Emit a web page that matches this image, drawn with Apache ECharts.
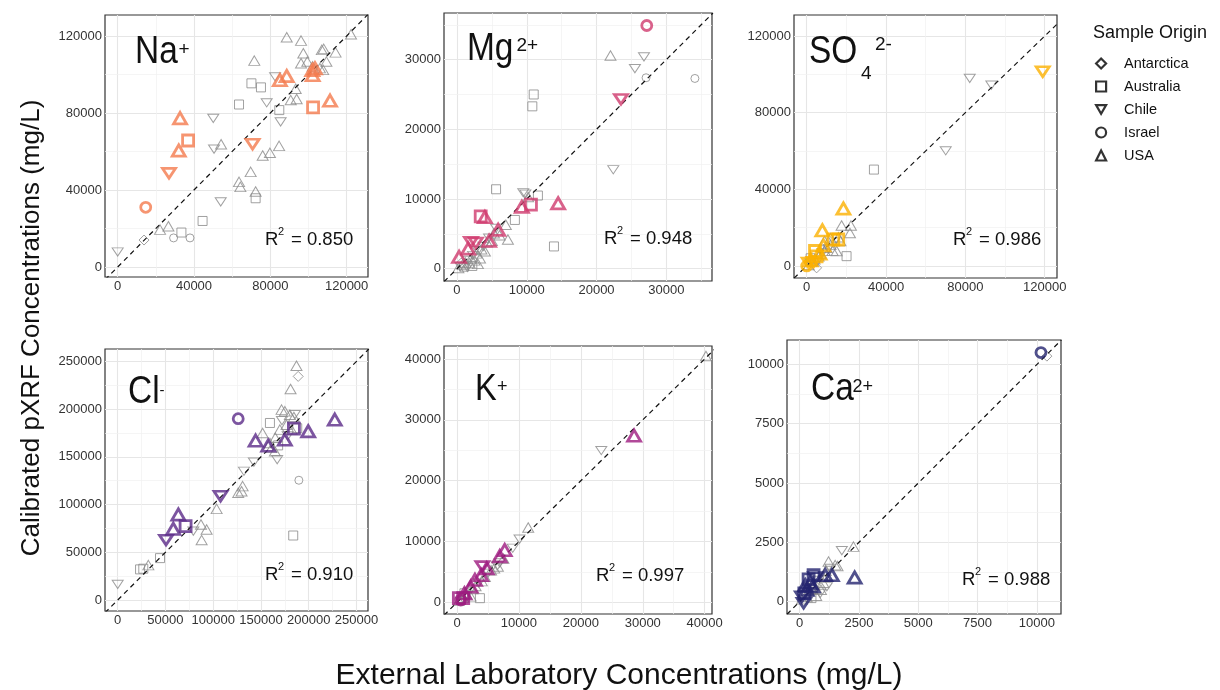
<!DOCTYPE html>
<html>
<head>
<meta charset="utf-8">
<script src="https://cdn.jsdelivr.net/npm/echarts@6/dist/echarts.min.js"></script>
<style>
  html, body { margin: 0; padding: 0; background: #fff; }
  #chart { width: 1220px; height: 690px; }
</style>
</head>
<body>
<div id="chart"></div>
<script>
// ---- data: [external lab, calibrated pXRF, origin] ----
const origins = ['Antarctica', 'Australia', 'Chile', 'Israel', 'USA']

const naGray = [[88600,119300,'USA'],[96100,117600,'USA'],[122300,120900,'USA'],[97300,111000,'USA'],[107000,112800,'USA'],[108000,113300,'USA'],[114200,111500,'USA'],[96100,105800,'USA'],[99400,106700,'USA'],[102200,104200,'USA'],[106000,103300,'USA'],[107700,102400,'USA'],[109400,106700,'USA'],[71600,107200,'USA'],[93300,92600,'USA'],[90700,86700,'USA'],[93800,87300,'USA'],[84600,62900,'USA'],[79800,59300,'USA'],[76000,57900,'USA'],[69700,49400,'USA'],[63600,44200,'USA'],[64300,41600,'USA'],[72300,39200,'USA'],[54200,63800,'USA'],[26600,21200,'USA'],[22200,19400,'USA'],
  [29300,15100,'Israel'],[37900,15100,'Israel'],
  [70100,95400,'Australia'],[75100,93300,'Australia'],[63600,84400,'Australia'],[84700,81500,'Australia'],[44500,23900,'Australia'],[33400,17900,'Australia'],[72300,35700,'Australia'],
  [0,7800,'Chile'],[54000,33800,'Chile'],[50100,77200,'Chile'],[50500,61200,'Chile'],[78100,85300,'Chile'],[85400,75400,'Chile'],[82500,98800,'Chile'],
  [13800,14000,'Antarctica']]
const naHi = [[14700,31000,'Israel'],[26900,48700,'Chile'],[32000,60500,'USA'],[36900,65700,'Australia'],[32700,77300,'USA'],[70700,63800,'Chile'],[85000,97100,'USA'],[88600,99200,'USA'],[102000,102300,'USA'],[103400,103200,'USA'],[102200,99700,'USA'],[102400,82900,'Australia'],[111300,86400,'USA']]

const mgGray = [[22000,30600,'USA'],[26800,30400,'Chile'],[25500,28700,'Chile'],[27100,27400,'Israel'],[34100,27300,'Israel'],[11000,25000,'Australia'],[10800,23300,'Australia'],[22400,14200,'Chile'],[5600,11400,'Australia'],[9500,10900,'Chile'],[9800,10700,'Chile'],[10200,10300,'USA'],[11600,10500,'Australia'],[8300,7000,'Australia'],[7000,6300,'USA'],[7300,4200,'USA'],[13900,3200,'Australia'],
  [200,100,'USA'],[500,300,'Chile'],[800,600,'USA'],[1000,300,'Australia'],[1200,900,'USA'],[1500,1200,'Chile'],[1800,800,'USA'],[2000,1500,'USA'],[2300,1900,'Chile'],[2500,1200,'USA'],[2800,2200,'USA'],[3000,2600,'Chile'],[3300,1500,'USA'],[3500,2800,'USA'],[3800,3200,'Chile'],[4000,2500,'USA'],[4300,3800,'USA'],[4600,4400,'Chile'],[5000,4000,'USA'],[5300,5100,'USA'],[5600,5800,'Chile'],[6100,4800,'USA'],[2200,400,'Australia'],[3000,700,'USA'],[1500,200,'Chile'],[600,800,'Antarctica']]
const mgHi = [[27200,34900,'Israel'],[23500,24300,'Chile'],[14500,9400,'USA'],[10600,9200,'Australia'],[9300,8900,'USA'],[3400,7500,'Australia'],[4000,7400,'USA'],[5900,5600,'USA'],[4600,4000,'USA'],[2000,3800,'Chile'],[2700,3700,'Chile'],[300,1700,'USA'],[1600,2900,'USA']]

const so4Gray = [[82200,97900,'Chile'],[93100,94400,'Chile'],[70100,60100,'Chile'],[33900,50300,'Australia'],[17600,21100,'USA'],[22300,21100,'USA'],[21800,17200,'USA'],[20100,5100,'Australia'],[15100,7800,'USA'],
  [1000,500,'USA'],[2000,1500,'Chile'],[3000,2500,'USA'],[4000,3500,'USA'],[5000,2000,'Chile'],[6000,5000,'USA'],[7000,6500,'USA'],[8000,7000,'Chile'],[9000,8000,'USA'],[10000,9500,'USA'],[11000,9000,'Chile'],[12000,11000,'USA'],[13000,8000,'USA'],[14000,12500,'Chile'],[16000,15000,'USA'],[17000,13000,'USA'],[5000,-1000,'Antarctica'],[2000,4000,'Australia'],[9000,13000,'USA'],[12000,14500,'USA']]
const so4Hi = [[119000,101400,'Chile'],[18500,30000,'USA'],[7900,18600,'USA'],[13400,13800,'Australia'],[15900,13800,'Australia'],[8400,10800,'USA'],[4200,7800,'Australia'],[0,0,'Israel'],[2000,3000,'USA'],[5000,5000,'Australia'],[6500,6500,'USA'],[3500,2000,'Chile'],[1000,1500,'Chile']]

const clGray = [[187200,245500,'USA'],[189000,234300,'Antarctica'],[181000,221100,'USA'],[159400,185500,'Australia'],[171600,199500,'USA'],[175000,197700,'USA'],[180300,194200,'USA'],[184500,191800,'USA'],[169800,178500,'USA'],[176800,183700,'USA'],[182000,178500,'USA'],[185500,194200,'Chile'],[151700,175000,'USA'],[159400,164600,'USA'],[164600,155900,'USA'],[161100,159400,'USA'],[167000,147100,'Chile'],[142600,144400,'Chile'],[132200,134900,'Chile'],[189700,125500,'Israel'],[130800,119300,'USA'],[126200,112300,'USA'],[129700,114000,'USA'],[103600,95500,'USA'],[183800,67600,'Australia'],[87200,79200,'USA'],[93100,73900,'USA'],[87900,62800,'USA'],[79200,72200,'Chile'],[44300,43900,'Australia'],[23400,32100,'Australia'],[26800,32800,'Australia'],[32100,36600,'USA'],[0,16400,'Chile'],
  [165000,170000,'USA'],[172000,188000,'Chile'],[178000,172000,'Chile'],[188000,180000,'Australia'],[168000,162000,'Australia']]
const clHi = [[126200,190000,'Israel'],[227300,189000,'USA'],[184500,179600,'Australia'],[199500,176800,'USA'],[144400,167000,'USA'],[157600,161800,'USA'],[175000,168100,'USA'],[107700,108800,'Chile'],[63500,89600,'USA'],[71100,77400,'Australia'],[58200,74600,'USA'],[50600,62800,'Chile']]

const kGray = [[40200,40500,'USA'],[23300,24950,'Chile'],[11500,12300,'USA'],[10100,10400,'Chile'],[9000,8900,'Chile'],[6600,5900,'USA'],[6900,6500,'Chile'],[3700,700,'Australia'],
  [300,300,'USA'],[600,200,'Chile'],[1000,800,'USA'],[1500,1400,'USA'],[2000,1800,'Chile'],[2500,2200,'USA'],[3000,2700,'USA'],[3500,3200,'Chile'],[4000,3500,'USA'],[4500,4200,'USA'],[5000,4800,'Chile'],[5500,5300,'USA'],[6000,5600,'USA'],[6500,6000,'Chile'],[1200,1500,'Australia'],[2200,1000,'USA'],[800,300,'Antarctica'],[7500,7200,'USA']]
const kHi = [[28600,27400,'USA'],[7700,8600,'USA'],[6900,7600,'USA'],[4100,5900,'Chile'],[4800,5600,'USA'],[3900,4500,'USA'],[2900,3700,'USA'],[2200,2600,'USA'],[300,700,'Australia'],[1000,700,'Australia'],[1200,1500,'USA'],[600,400,'Israel']]

const caGray = [[10420,10350,'Antarctica'],[1780,2150,'Chile'],[2270,2320,'USA'],[1220,1690,'USA'],[1500,1540,'USA'],[1150,630,'Chile'],[870,350,'Chile'],[100,100,'USA'],[200,300,'Chile'],[300,200,'USA'],[400,500,'USA'],[500,400,'Chile'],[600,700,'USA'],[700,550,'USA'],[800,900,'Chile'],[1000,800,'USA'],[1100,1300,'USA'],[1300,1400,'Chile'],[1600,1500,'USA'],[900,500,'USA'],[500,150,'Australia'],[700,250,'USA'],[350,600,'Chile'],[1000,1050,'USA']]
const caHi = [[10170,10500,'Israel'],[2320,1020,'USA'],[1360,1120,'USA'],[1080,1120,'USA'],[660,1020,'Chile'],[380,940,'Australia'],[590,1120,'Australia'],[240,700,'USA'],[100,210,'Chile'],[170,-70,'Chile'],[300,500,'USA'],[450,800,'USA'],[200,350,'Australia'],[550,650,'USA']]

// tick labels of each panel
const naTicks = [0, 40000, 80000, 120000]
const mgTicks = [0, 10000, 20000, 30000]
const so4Ticks = [0, 40000, 80000, 120000]
const clTicks = [0, 50000, 100000, 150000, 200000, 250000]
const kTicks = [0, 10000, 20000, 30000, 40000]
const caTicks = [0, 2500, 5000, 7500, 10000]

const r2Values = ['0.850', '0.948', '0.986', '0.910', '0.997', '0.988']

// ---- layout ----
const fontFam = '"Liberation Sans", Arial, Helvetica, sans-serif'
const grayColor = '#8a8a8a'
const downTri = 'path://M0,0L12,0L6,10.4Z'
const shapes = {Antarctica: 'diamond', Australia: 'rect', Chile: downTri, Israel: 'circle', USA: 'triangle'}
const graySize = {Antarctica: [10, 10], Australia: [9, 9], Chile: [11, 9.5], Israel: [8, 8], USA: [11, 9.5]}
const hiSize = {Antarctica: [12, 12], Australia: [11, 11], Chile: [13, 11.3], Israel: [10, 10], USA: [13, 11.3]}

const panels = [
    {gray: naGray, hi: naHi, ticks: naTicks, color: '#F47A4E', grid: [105, 15, 263, 262], x: [-6650, 131200], y: [-5200, 130900], r2: [265, 240]},
    {gray: mgGray, hi: mgHi, ticks: mgTicks, color: '#D03B6E', grid: [444, 13, 268, 268], x: [-1860, 36550], y: [-1760, 36690], r2: [604, 239]},
    {gray: so4Gray, hi: so4Hi, ticks: so4Ticks, color: '#FBB000', grid: [794, 15, 263, 263], x: [-6400, 126200], y: [-6300, 131000], r2: [953, 240]},
    {gray: clGray, hi: clHi, ticks: clTicks, color: '#5B2A88', grid: [105, 349, 263, 262], x: [-13300, 262100], y: [-11500, 263000], r2: [265, 575]},
    {gray: kGray, hi: kHi, ticks: kTicks, color: '#9E1C7F', grid: [444, 346, 268, 268], x: [-2100, 41180], y: [-1900, 42130], r2: [596, 576]},
    {gray: caGray, hi: caHi, ticks: caTicks, color: '#24246F', grid: [787, 340, 274, 274], x: [-530, 11015], y: [-520, 11030], r2: [962, 580]}
]

function minorOf(ticks, range) {
    // gridline halfway between the labelled ticks, ggplot style
    let step = ticks[1] - ticks[0]
    let out = []
    for (let v = ticks[0] - step / 2; v <= range[1]; v += step) {
        if (v >= range[0]) out.push(v)
    }
    return out
}

let grids = [], xAxes = [], yAxes = [], series = []

panels.forEach((p, i) => {
    grids.push({left: p.grid[0], top: p.grid[1], width: p.grid[2], height: p.grid[3],
        show: true, borderColor: '#333', borderWidth: 1.2, backgroundColor: 'transparent'})

    let axisBase = (range) => ({
        type: 'value', gridIndex: i, min: range[0], max: range[1],
        axisLine: {show: false},
        splitLine: {show: false},
        axisTick: {show: true, customValues: p.ticks, length: 4, lineStyle: {color: '#333', width: 1}},
        axisLabel: {customValues: p.ticks, formatter: v => String(v), color: '#333', fontSize: 13,
            margin: 3, fontFamily: fontFam}
    })
    xAxes.push(axisBase(p.x))
    yAxes.push(axisBase(p.y))

    // grid lines (major + minor) as mark lines under the points
    let gl = []
    p.ticks.forEach(v => {
        gl.push({xAxis: v, lineStyle: {color: '#e6e6e6', width: 1.1, type: 'solid'}})
        gl.push({yAxis: v, lineStyle: {color: '#e6e6e6', width: 1.1, type: 'solid'}})
    })
    minorOf(p.ticks, p.x).forEach(v => gl.push({xAxis: v, lineStyle: {color: '#f1f1f1', width: 0.7, type: 'solid'}}))
    minorOf(p.ticks, p.y).forEach(v => gl.push({yAxis: v, lineStyle: {color: '#f1f1f1', width: 0.7, type: 'solid'}}))

    let lo = Math.min(p.x[0], p.y[0]), hi = Math.max(p.x[1], p.y[1])
    series.push({
        type: 'line', xAxisIndex: i, yAxisIndex: i, z: 3, silent: true, clip: true,
        symbol: 'none', data: [[lo, lo], [hi, hi]],
        lineStyle: {color: '#111', width: 1.2, type: [5, 4]},
        markLine: {z: 1, silent: true, symbol: 'none', label: {show: false}, animation: false, data: gl}
    })

    series.push({
        type: 'scatter', xAxisIndex: i, yAxisIndex: i, z: 2, silent: true, symbolKeepAspect: true,
        data: p.gray.map(d => ({value: [d[0], d[1]], symbol: shapes[d[2]], symbolSize: graySize[d[2]]})),
        itemStyle: {color: 'rgba(0,0,0,0)', borderColor: grayColor, borderWidth: 1}
    })
    series.push({
        type: 'scatter', xAxisIndex: i, yAxisIndex: i, z: 4, silent: true, symbolKeepAspect: true,
        data: p.hi.map(d => ({value: [d[0], d[1]], symbol: shapes[d[2]], symbolSize: hiSize[d[2]]})),
        itemStyle: {color: 'rgba(0,0,0,0)', borderColor: p.color, borderWidth: 2.8}
    })
})

// empty series so the legend has one entry per origin
origins.forEach(o => series.push({type: 'scatter', name: o, xAxisIndex: 0, yAxisIndex: 0, data: [], symbol: shapes[o]}))

function txt(x, y, s, size, extra) {
    return Object.assign({type: 'text', x: x, y: y, z: 10, silent: true,
        style: {text: s, fontSize: size, fontFamily: fontFam, fill: '#111', align: 'left', verticalAlign: 'middle'}}, extra || {})
}
// ion names look a bit narrower than the rest of the text
const narrow = {scaleX: 0.88}

let graphics = [
    txt(135, 53, 'Na', 38, narrow), txt(178.5, 50, '+', 19),
    txt(467, 50, 'Mg', 38, narrow), txt(516.5, 46, '2+', 19),
    txt(809, 53, 'SO', 38, narrow), txt(861, 73.5, '4', 19), txt(875, 45, '2-', 19),
    txt(128, 393, 'Cl', 38, narrow), txt(159.5, 391, '-', 15),
    txt(475, 390, 'K', 37, narrow), txt(497, 387, '+', 18),
    txt(811, 390, 'Ca', 38, narrow), txt(852.5, 387, '2+', 18),
    txt(1093, 33, 'Sample Origin', 18),
    {type: 'text', x: 32, y: 328, z: 10, rotation: Math.PI / 2, silent: true,
        style: {text: 'Calibrated pXRF Concentrations (mg/L)', fontSize: 26, fontFamily: fontFam, fill: '#111', align: 'center', verticalAlign: 'middle'}},
    {type: 'text', x: 619, y: 676, z: 10, silent: true,
        style: {text: 'External Laboratory Concentrations (mg/L)', fontSize: 30, fontFamily: fontFam, fill: '#111', align: 'center', verticalAlign: 'middle'}}
]
panels.forEach((p, i) => {
    let ax = p.r2[0], ay = p.r2[1]
    graphics.push(txt(ax, ay, 'R', 18.5), txt(ax + 13, ay - 8, '2', 11), txt(ax + 26, ay, '= ' + r2Values[i], 18.5))
})

const MyChart = echarts.init(document.getElementById('chart'))
MyChart.setOption({
    animation: false,
    backgroundColor: '#fff',
    textStyle: {fontFamily: fontFam},
    grid: grids,
    xAxis: xAxes,
    yAxis: yAxes,
    legend: {
        orient: 'vertical', left: 1095, top: 56, padding: 0, itemGap: 8,
        itemWidth: 10, itemHeight: 10, selectedMode: false,
        textStyle: {fontSize: 14.5, color: '#111', padding: [0, 0, 0, 13]},
        data: origins.map(o => ({name: o, icon: shapes[o],
            itemStyle: {color: 'rgba(0,0,0,0)', borderColor: '#000', borderWidth: 2.2}}))
    },
    series: series,
    graphic: graphics
})
</script>
</body>
</html>
